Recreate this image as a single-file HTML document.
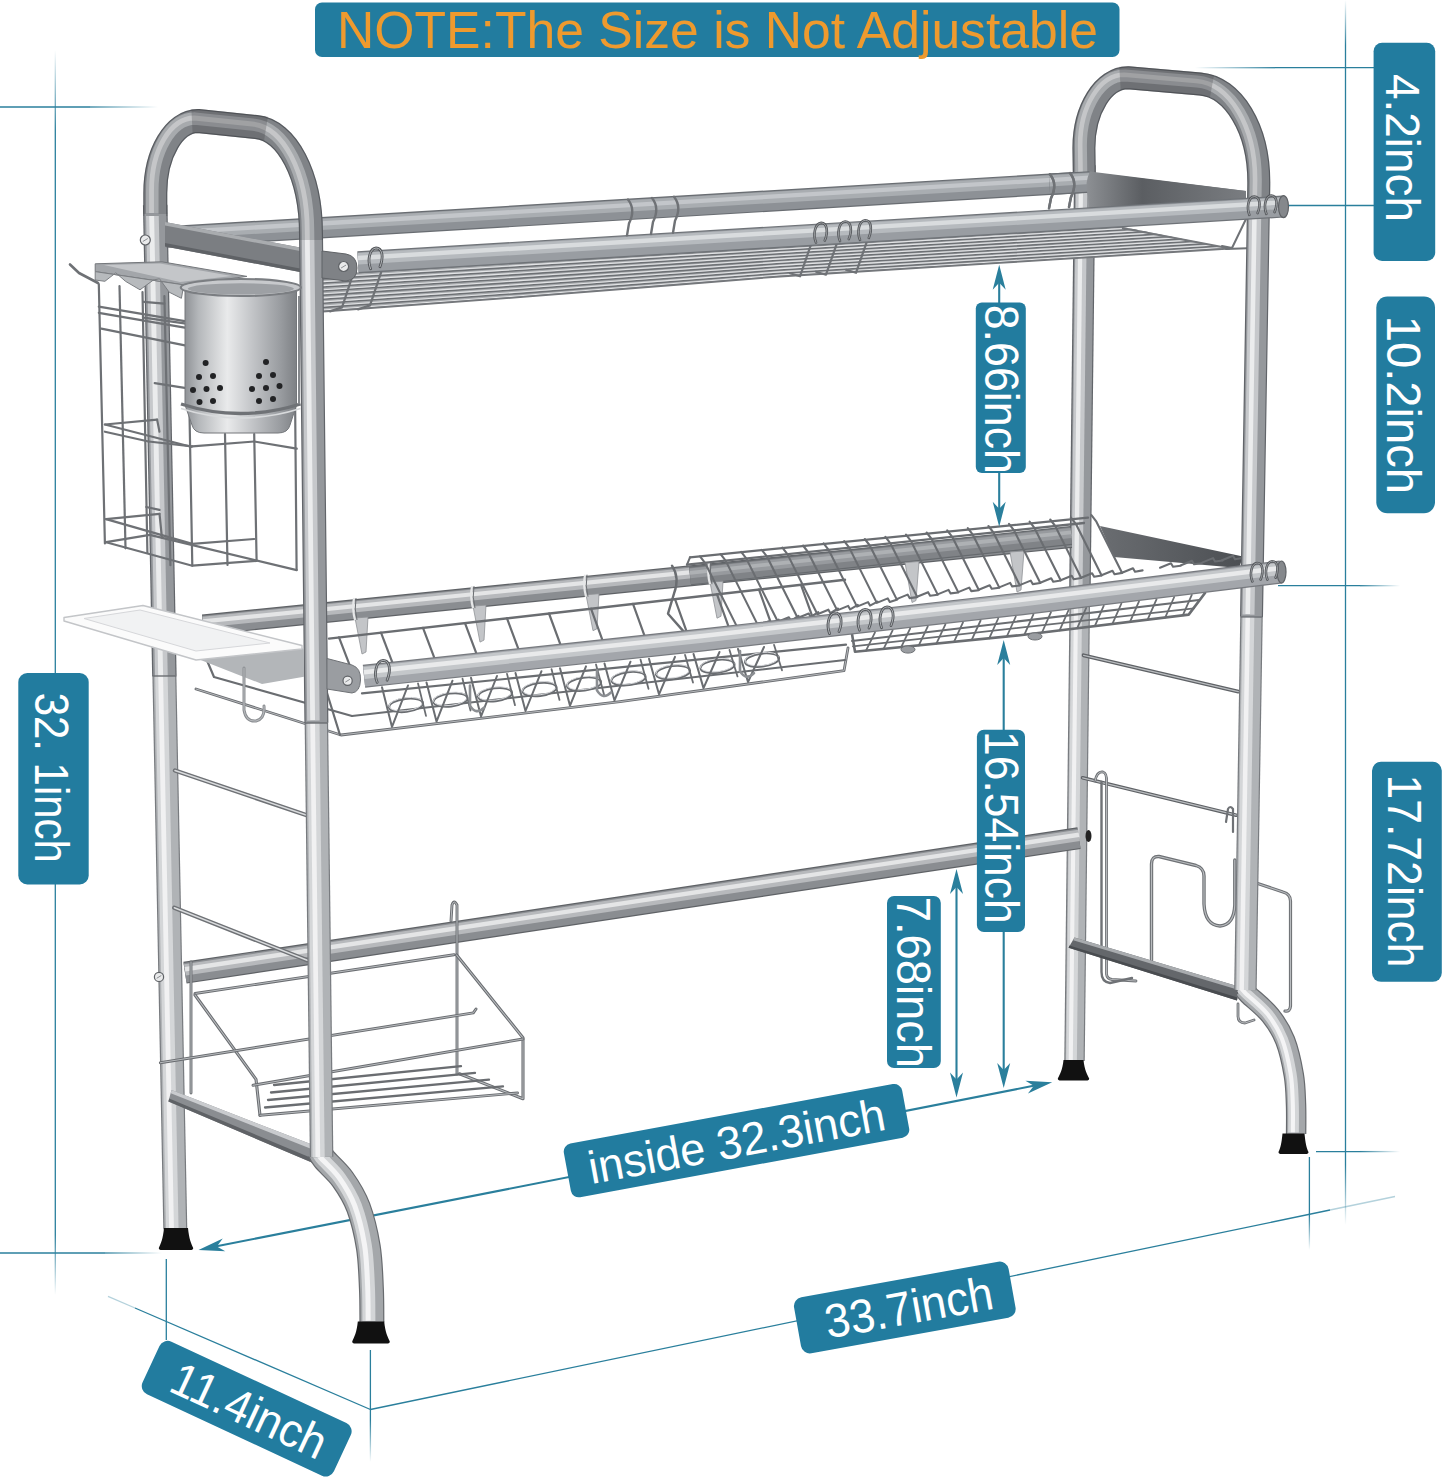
<!DOCTYPE html>
<html lang="en"><head><meta charset="utf-8"><title>Dish rack dimensions</title>
<style>
html,body{margin:0;padding:0;background:#fff}
svg{display:block}
text{font-family:"Liberation Sans",sans-serif}
</style></head><body>
<svg width="1445" height="1483" viewBox="0 0 1445 1483">
<defs>
<linearGradient id="fadeL" x1="0" x2="1" y1="0" y2="0"><stop offset="0" stop-color="#2a7f9c" stop-opacity="0"/><stop offset="1" stop-color="#2a7f9c"/></linearGradient>
<linearGradient id="fadeR" x1="0" x2="1" y1="0" y2="0"><stop offset="0" stop-color="#2a7f9c"/><stop offset="1" stop-color="#2a7f9c" stop-opacity="0"/></linearGradient>
<linearGradient id="fadeT" x1="0" x2="0" y1="0" y2="1"><stop offset="0" stop-color="#2a7f9c" stop-opacity="0"/><stop offset="1" stop-color="#2a7f9c"/></linearGradient>
<linearGradient id="fadeB" x1="0" x2="0" y1="0" y2="1"><stop offset="0" stop-color="#2a7f9c"/><stop offset="1" stop-color="#2a7f9c" stop-opacity="0"/></linearGradient>
<linearGradient id="cup" x1="0" x2="1" y1="0" y2="0"><stop offset="0" stop-color="#8f9296"/><stop offset="0.12" stop-color="#b4b7ba"/><stop offset="0.38" stop-color="#e9eaeb"/><stop offset="0.6" stop-color="#c3c5c8"/><stop offset="0.85" stop-color="#9a9da1"/><stop offset="1" stop-color="#7e8185"/></linearGradient>
<linearGradient id="plate" x1="0" x2="1" y1="0" y2="0"><stop offset="0" stop-color="#8d9094"/><stop offset="0.35" stop-color="#5b5e62"/><stop offset="1" stop-color="#7a7d81"/></linearGradient>
<linearGradient id="plate2" x1="0" x2="1" y1="0" y2="0"><stop offset="0" stop-color="#6a6d71"/><stop offset="1" stop-color="#4c4f53"/></linearGradient>
</defs>
<rect width="1445" height="1483" fill="#fff"/>

<g id="guides">
<rect x="54.65" y="50.0" width="1.3" height="80.0" fill="url(#fadeT)" opacity="1"/>
<line x1="55.3" y1="130" x2="55.3" y2="1235" stroke="#2a7f9c" stroke-width="1.3" opacity="1"/>
<rect x="54.65" y="1235.0" width="1.3" height="60.0" fill="url(#fadeB)" opacity="1"/>
<line x1="0" y1="107" x2="90" y2="107" stroke="#2a7f9c" stroke-width="1.3" opacity="1"/>
<rect x="90.0" y="106.35" width="68.0" height="1.3" fill="url(#fadeR)" opacity="1"/>
<line x1="0" y1="1253" x2="105" y2="1253" stroke="#2a7f9c" stroke-width="1.3" opacity="1"/>
<rect x="105.0" y="1252.35" width="57.0" height="1.3" fill="url(#fadeR)" opacity="1"/>
<rect x="1344.85" y="0.0" width="1.3" height="45.0" fill="url(#fadeT)" opacity="1"/>
<line x1="1345.5" y1="45" x2="1345.5" y2="1165" stroke="#2a7f9c" stroke-width="1.3" opacity="1"/>
<rect x="1344.85" y="1165.0" width="1.3" height="60.0" fill="url(#fadeB)" opacity="1"/>
<rect x="1195.0" y="67.05" width="80.0" height="1.3" fill="url(#fadeL)" opacity="1"/>
<line x1="1275" y1="67.7" x2="1374" y2="67.7" stroke="#2a7f9c" stroke-width="1.3" opacity="1"/>
<line x1="1288" y1="205.5" x2="1374" y2="205.5" stroke="#2a7f9c" stroke-width="1.3" opacity="1"/>
<line x1="1278" y1="585.7" x2="1360" y2="585.7" stroke="#2a7f9c" stroke-width="1.3" opacity="1"/>
<rect x="1360.0" y="585.05" width="40.0" height="1.3" fill="url(#fadeR)" opacity="1"/>
<line x1="1316" y1="1151.6" x2="1360" y2="1151.6" stroke="#2a7f9c" stroke-width="1.3" opacity="1"/>
<rect x="1360.0" y="1150.95" width="40.0" height="1.3" fill="url(#fadeR)" opacity="1"/>
<line x1="1309.4" y1="1157" x2="1309.4" y2="1215" stroke="#2a7f9c" stroke-width="1.3" opacity="1"/>
<rect x="1308.75" y="1215.0" width="1.3" height="35.0" fill="url(#fadeB)" opacity="1"/>
<line x1="166.3" y1="1259" x2="166.3" y2="1340" stroke="#2a7f9c" stroke-width="1.3" opacity="1"/>
<line x1="370.4" y1="1350" x2="370.4" y2="1420" stroke="#2a7f9c" stroke-width="1.3" opacity="1"/>
<rect x="369.75" y="1420.0" width="1.3" height="42.0" fill="url(#fadeB)" opacity="1"/>
<line x1="370.4" y1="1409.5" x2="1330" y2="1210" stroke="#2a7f9c" stroke-width="1.3"/>
<line x1="1330" y1="1210" x2="1395" y2="1196.5" stroke="#2a7f9c" stroke-width="1.3" opacity=".35"/>
<line x1="135" y1="1308" x2="370.4" y2="1409.5" stroke="#2a7f9c" stroke-width="1.3"/>
<line x1="108" y1="1296.4" x2="135" y2="1308" stroke="#2a7f9c" stroke-width="1.3" opacity=".35"/>
<line x1="214" y1="1246.8" x2="1036" y2="1085.3" stroke="#2a7f9c" stroke-width="2.1"/>
<path transform="translate(198.5,1250) rotate(168.9)" d="M0,0L-26,-6.5L-18.7,0L-26,6.5Z" fill="#2a7f9c"/>
<path transform="translate(1052.2,1082.2) rotate(-11.1)" d="M0,0L-26,-6.5L-18.7,0L-26,6.5Z" fill="#2a7f9c"/>
</g>
<g id="rack">
<g fill="none" stroke-linecap="butt" stroke-linejoin="round" >
<path d="M155.2,205L164.4,676" stroke="#62656a" stroke-width="24.5"/>
<path d="M155.2,205L164.4,676" stroke="#95989c" stroke-width="22.1"/>
<path d="M155.2,205L164.4,676" stroke="#c6c8cb" stroke-width="12.7" transform="translate(-3.0,0)"/>
<path d="M155.2,205L164.4,676" stroke="#ebeced" stroke-width="4.9" transform="translate(-3.75,0.00)"/>
</g>
<g fill="none" stroke-linecap="butt" stroke-linejoin="round" >
<path d="M164.4,676L175.3,1229" stroke="#787b7f" stroke-width="24"/>
<path d="M164.4,676L175.3,1229" stroke="#b0b3b6" stroke-width="21.6"/>
<path d="M164.4,676L175.3,1229" stroke="#d4d6d8" stroke-width="12.5" transform="translate(-3.0,0)"/>
<path d="M164.4,676L175.3,1229" stroke="#f1f1f2" stroke-width="4.8" transform="translate(-3.75,0.00)"/>
</g>
<g fill="none" stroke-linecap="butt" stroke-linejoin="round" >
<path d="M1084.9,165L1079.8,600" stroke="#62656a" stroke-width="21.5"/>
<path d="M1084.9,165L1079.8,600" stroke="#95989c" stroke-width="19.1"/>
<path d="M1084.9,165L1079.8,600" stroke="#c6c8cb" stroke-width="11.2" transform="translate(-3.0,0)"/>
<path d="M1084.9,165L1079.8,600" stroke="#ebeced" stroke-width="4.3" transform="translate(-3.75,0.00)"/>
</g>
<g fill="none" stroke-linecap="butt" stroke-linejoin="round" >
<path d="M1079.8,600L1074.5,1061" stroke="#787b7f" stroke-width="20.5"/>
<path d="M1079.8,600L1074.5,1061" stroke="#b0b3b6" stroke-width="18.1"/>
<path d="M1079.8,600L1074.5,1061" stroke="#d4d6d8" stroke-width="10.7" transform="translate(-3.0,0)"/>
<path d="M1079.8,600L1074.5,1061" stroke="#f1f1f2" stroke-width="4.1" transform="translate(-3.75,0.00)"/>
</g>
<path d="M164.0,1228L188.0,1228C189.0,1239.0 191.2,1243.4 193.2,1248.0Q193.2,1250 190.2,1250L161.8,1250Q158.8,1250 158.8,1248.0C160.8,1243.4 163.0,1239.0 164.0,1228Z" fill="#111"/>
<path d="M1063.5,1060L1083.5,1060C1084.5,1070.2 1087.2,1074.3 1089.2,1078.5Q1089.2,1080.5 1086.2,1080.5L1060.8,1080.5Q1057.8,1080.5 1057.8,1078.5C1059.8,1074.3 1062.5,1070.2 1063.5,1060Z" fill="#111"/>
<g fill="none" stroke-linecap="butt" stroke-linejoin="round" >
<path d="M185,972.7L1079,838.2" stroke="#5f6266" stroke-width="22"/>
<path d="M185,972.7L1079,838.2" stroke="#8a8d91" stroke-width="19.6"/>
<path d="M185,972.7L1079,838.2" stroke="#b7b9bc" stroke-width="11.4" transform="translate(0,-2.8)"/>
<path d="M185,972.7L1079,838.2" stroke="#e4e5e6" stroke-width="4.4" transform="translate(0.00,-3.50)"/>
</g>
<ellipse cx="1088.5" cy="836" rx="3" ry="6" fill="#222"/>
<g fill="none" stroke-linecap="butt" stroke-linejoin="round" >
<path d="M166,237.0L1088,182.0" stroke="#696d72" stroke-width="21.5"/>
<path d="M166,237.0L1088,182.0" stroke="#8d9196" stroke-width="19.1"/>
<path d="M166,237.0L1088,182.0" stroke="#a9adb1" stroke-width="11.2" transform="translate(0,-3.4)"/>
<path d="M166,237.0L1088,182.0" stroke="#c3c6ca" stroke-width="4.3" transform="translate(0.00,-4.25)"/>
</g>
<g fill="none" stroke-linecap="butt" stroke-linejoin="round" >
<path d="M203,624.9L1071,537.5" stroke="#5f6266" stroke-width="21"/>
<path d="M203,624.9L1071,537.5" stroke="#8a8d91" stroke-width="18.6"/>
<path d="M203,624.9L1071,537.5" stroke="#b7b9bc" stroke-width="10.9" transform="translate(0,-2.8)"/>
<path d="M203,624.9L1071,537.5" stroke="#e4e5e6" stroke-width="4.2" transform="translate(0.00,-3.50)"/>
</g>
<g fill="none" stroke-linecap="butt" stroke-linejoin="round" >
<path d="M690,575.9L1071,535.5" stroke="#666a6e" stroke-width="19"/>
<path d="M690,575.9L1071,535.5" stroke="#808387" stroke-width="16.6"/>
<path d="M690,575.9L1071,535.5" stroke="#979a9e" stroke-width="9.9" transform="translate(0,-2.5)"/>
<path d="M690,575.9L1071,535.5" stroke="#aeb1b4" stroke-width="3.8" transform="translate(0.00,-3.12)"/>
</g>
<path d="M1083.6,655.3L1238.3,691.6" fill="none" stroke="#5f6266" stroke-width="3.8" stroke-linecap="round" stroke-linejoin="round"/>
<path d="M1083.6,655.3L1238.3,691.6" fill="none" stroke="#b9bcbf" stroke-width="1.29" stroke-linecap="round" stroke-linejoin="round"/>
<path d="M1082.6,777.8L1236.2,815.2" fill="none" stroke="#5f6266" stroke-width="3.6" stroke-linecap="round" stroke-linejoin="round"/>
<path d="M1082.6,777.8L1236.2,815.2" fill="none" stroke="#b9bcbf" stroke-width="1.22" stroke-linecap="round" stroke-linejoin="round"/>
<path d="M1095,781Q1097,771 1103,772Q1107,773 1106.5,782L1106.5,974Q1107,979 1112,979.5L1136,981" fill="none" stroke="#6f7276" stroke-width="2.8" stroke-linecap="round" stroke-linejoin="round"/>
<path d="M1095,781Q1097,771 1103,772Q1107,773 1106.5,782L1106.5,974Q1107,979 1112,979.5L1136,981" fill="none" stroke="#b9bcbf" stroke-width="0.95" stroke-linecap="round" stroke-linejoin="round"/>
<path d="M1101.5,782L1101.5,972Q1101.5,982 1110,983L1132,978" fill="none" stroke="#6f7276" stroke-width="2.4" stroke-linecap="round" stroke-linejoin="round"/>
<path d="M1226,822L1228,809Q1230,805 1233,809L1233,832" fill="none" stroke="#6f7276" stroke-width="2.2" stroke-linecap="round" stroke-linejoin="round"/>
<path d="M1151.5,962L1151.5,864Q1151.5,856 1159,856.5L1196,865.5Q1204,868 1204,876L1204,904Q1205,925 1220,926Q1234,925 1234.8,905L1234.8,860" fill="none" stroke="#6f7276" stroke-width="3.4" stroke-linecap="round" stroke-linejoin="round"/>
<path d="M1151.5,962L1151.5,864Q1151.5,856 1159,856.5L1196,865.5Q1204,868 1204,876L1204,904Q1205,925 1220,926Q1234,925 1234.8,905L1234.8,860" fill="none" stroke="#b9bcbf" stroke-width="1.16" stroke-linecap="round" stroke-linejoin="round"/>
<path d="M1257.7,883.5L1283,892Q1290.5,894 1290.5,901L1290.5,1006Q1290,1012 1285,1011" fill="none" stroke="#6f7276" stroke-width="3.2" stroke-linecap="round" stroke-linejoin="round"/>
<path d="M1257.7,883.5L1283,892Q1290.5,894 1290.5,901L1290.5,1006Q1290,1012 1285,1011" fill="none" stroke="#b9bcbf" stroke-width="1.09" stroke-linecap="round" stroke-linejoin="round"/>
<path d="M1238,1004L1238,1016Q1238,1023 1245,1023L1254,1020" fill="none" stroke="#6f7276" stroke-width="2.8" stroke-linecap="round" stroke-linejoin="round"/>
<path d="M1238,1004L1238,1016Q1238,1023 1245,1023L1254,1020" fill="none" stroke="#b9bcbf" stroke-width="0.95" stroke-linecap="round" stroke-linejoin="round"/>
<path d="M1087.5,172L1246,191L1246,206L1090,216Z" fill="url(#plate)"/>
<path d="M1100,526L1243,556.4L1239,568L1114,557Z" fill="url(#plate2)"/>
<path d="M175,770.5L309,816" fill="none" stroke="#6f7276" stroke-width="4.4" stroke-linecap="round" stroke-linejoin="round"/>
<path d="M175,770.5L309,816" fill="none" stroke="#d9dbdd" stroke-width="1.50" stroke-linecap="round" stroke-linejoin="round"/>
<path d="M174.3,907.7L307.2,960.3" fill="none" stroke="#6f7276" stroke-width="4.4" stroke-linecap="round" stroke-linejoin="round"/>
<path d="M174.3,907.7L307.2,960.3" fill="none" stroke="#d9dbdd" stroke-width="1.50" stroke-linecap="round" stroke-linejoin="round"/>
<path d="M165,222L300,247.5L300,272L165,246.5Z" fill="#7b7e82"/>
<path d="M165,222L300,247.5L300,251L165,225.5Z" fill="#a9acaf"/>
<path d="M165,243L300,268.5L300,272L165,246.5Z" fill="#5f6266"/>
<path d="M171.5,1090.1L310.6,1144.1L314.8,1163.8L168.4,1101.5Z" fill="#8a8d91"/>
<path d="M171.5,1090.1L310.6,1144.1L311.5,1149L170.8,1093.2Z" fill="#c9cbce"/>
<path d="M169.2,1098.6L313.8,1159L314.8,1163.8L168.4,1101.5Z" fill="#5f6266"/>
<path d="M1074.4,937.4L1239.4,986.7L1237,1000.4L1068.6,947.7Z" fill="#64676b"/>
<path d="M1074.4,937.4L1239.4,986.7L1238.8,990L1073.2,940.2Z" fill="#a9acaf"/>
<path d="M1069.4,945.5L1237.5,997.6L1237,1000.4L1068.6,947.7Z" fill="#494c50"/>
<clipPath id="meshclip"><path d="M323.0,274.8L520.0,263.0L680.0,253.4L780.0,247.4L1000.0,234.1L1122.0,226.8L1230.0,248.5L1000.0,262.9L780.0,276.5L680.0,284.5L520.0,297.2L323.0,311.5Z"/></clipPath>
<g clip-path="url(#meshclip)">
<rect x="320" y="220" width="920" height="100" fill="#a9acaf"/>
<path d="M323.0,274.8L520.0,263.0L680.0,253.4L780.0,247.4L1000.0,234.1L1230.0,220.3" fill="none" stroke="#6d7074" stroke-width="1.5"/>
<path d="M323.0,273.4L520.0,261.6L680.0,252.0L780.0,246.0L1000.0,232.7L1230.0,218.9" fill="none" stroke="#e3e4e6" stroke-width="1.1"/>
<path d="M323.0,278.9L520.0,266.8L680.0,256.8L780.0,250.6L1000.0,237.3L1230.0,223.5" fill="none" stroke="#6d7074" stroke-width="1.5"/>
<path d="M323.0,277.5L520.0,265.4L680.0,255.4L780.0,249.2L1000.0,235.9L1230.0,222.1" fill="none" stroke="#e3e4e6" stroke-width="1.1"/>
<path d="M323.0,283.0L520.0,270.6L680.0,260.3L780.0,253.8L1000.0,240.5L1230.0,226.6" fill="none" stroke="#6d7074" stroke-width="1.5"/>
<path d="M323.0,281.6L520.0,269.2L680.0,258.9L780.0,252.4L1000.0,239.1L1230.0,225.2" fill="none" stroke="#e3e4e6" stroke-width="1.1"/>
<path d="M323.0,287.0L520.0,274.4L680.0,263.7L780.0,257.1L1000.0,243.7L1230.0,229.7" fill="none" stroke="#6d7074" stroke-width="1.5"/>
<path d="M323.0,285.6L520.0,273.0L680.0,262.3L780.0,255.7L1000.0,242.3L1230.0,228.3" fill="none" stroke="#e3e4e6" stroke-width="1.1"/>
<path d="M323.0,291.1L520.0,278.2L680.0,267.2L780.0,260.3L1000.0,246.9L1230.0,232.8" fill="none" stroke="#6d7074" stroke-width="1.5"/>
<path d="M323.0,289.7L520.0,276.8L680.0,265.8L780.0,258.9L1000.0,245.5L1230.0,231.4" fill="none" stroke="#e3e4e6" stroke-width="1.1"/>
<path d="M323.0,295.2L520.0,282.0L680.0,270.7L780.0,263.5L1000.0,250.1L1230.0,236.0" fill="none" stroke="#6d7074" stroke-width="1.5"/>
<path d="M323.0,293.8L520.0,280.6L680.0,269.3L780.0,262.1L1000.0,248.7L1230.0,234.6" fill="none" stroke="#e3e4e6" stroke-width="1.1"/>
<path d="M323.0,299.3L520.0,285.8L680.0,274.1L780.0,266.8L1000.0,253.3L1230.0,239.1" fill="none" stroke="#6d7074" stroke-width="1.5"/>
<path d="M323.0,297.9L520.0,284.4L680.0,272.7L780.0,265.4L1000.0,251.9L1230.0,237.7" fill="none" stroke="#e3e4e6" stroke-width="1.1"/>
<path d="M323.0,303.3L520.0,289.6L680.0,277.6L780.0,270.0L1000.0,256.5L1230.0,242.2" fill="none" stroke="#6d7074" stroke-width="1.5"/>
<path d="M323.0,301.9L520.0,288.2L680.0,276.2L780.0,268.6L1000.0,255.1L1230.0,240.8" fill="none" stroke="#e3e4e6" stroke-width="1.1"/>
<path d="M323.0,307.4L520.0,293.4L680.0,281.0L780.0,273.3L1000.0,259.7L1230.0,245.4" fill="none" stroke="#6d7074" stroke-width="1.5"/>
<path d="M323.0,306.0L520.0,292.0L680.0,279.6L780.0,271.9L1000.0,258.3L1230.0,244.0" fill="none" stroke="#e3e4e6" stroke-width="1.1"/>
<path d="M323.0,311.5L520.0,297.2L680.0,284.5L780.0,276.5L1000.0,262.9L1230.0,248.5" fill="none" stroke="#6d7074" stroke-width="1.5"/>
<path d="M323.0,310.1L520.0,295.8L680.0,283.1L780.0,275.1L1000.0,261.5L1230.0,247.1" fill="none" stroke="#e3e4e6" stroke-width="1.1"/>
</g>
<path d="M323,311.5L520,297.2L680,284.5L780,276.5L1000,262.9L1230,248.5L1122,228" fill="none" stroke="#74777b" stroke-width="1.8"/>
<path d="M354,271.4L342,307.4L330,311.4" fill="none" stroke="#6f7276" stroke-width="2.2" stroke-linecap="round" stroke-linejoin="round"/>
<path d="M382,269.7L370,305.4L358,309.4" fill="none" stroke="#6f7276" stroke-width="2.2" stroke-linecap="round" stroke-linejoin="round"/>
<path d="M812,241.7L800,276.3L790,273.3" fill="none" stroke="#6f7276" stroke-width="2.2" stroke-linecap="round" stroke-linejoin="round"/>
<path d="M838,240.1L826,274.7L816,271.7" fill="none" stroke="#6f7276" stroke-width="2.2" stroke-linecap="round" stroke-linejoin="round"/>
<path d="M868,238.3L856,272.8L846,269.8" fill="none" stroke="#6f7276" stroke-width="2.2" stroke-linecap="round" stroke-linejoin="round"/>
<path d="M1246,219L1232,248L1222,246" fill="none" stroke="#6f7276" stroke-width="2.0" stroke-linecap="round" stroke-linejoin="round"/>
<path d="M1268,218L1254,248L1226,249" fill="none" stroke="#6f7276" stroke-width="2.0" stroke-linecap="round" stroke-linejoin="round"/>
<path d="M355,618.0L368,617.0L366,652.0L362,654.0Z" fill="#c3c5c8" stroke="#8f9296" stroke-width="0.8"/>
<path d="M354,598.0Q352,609.0 355,620.0" fill="none" stroke="#e6e7e8" stroke-width="2.2"/>
<path d="M356,598.0Q354,609.0 357,620.0" fill="none" stroke="#6b6e72" stroke-width="1"/>
<path d="M473,606.1L486,605.1L484,640.1L480,642.1Z" fill="#c3c5c8" stroke="#8f9296" stroke-width="0.8"/>
<path d="M472,586.1Q470,597.1 473,608.1" fill="none" stroke="#e6e7e8" stroke-width="2.2"/>
<path d="M474,586.1Q472,597.1 475,608.1" fill="none" stroke="#6b6e72" stroke-width="1"/>
<path d="M586,594.7L599,593.7L597,628.7L593,630.7Z" fill="#c3c5c8" stroke="#8f9296" stroke-width="0.8"/>
<path d="M585,574.7Q583,585.7 586,596.7" fill="none" stroke="#e6e7e8" stroke-width="2.2"/>
<path d="M587,574.7Q585,585.7 588,596.7" fill="none" stroke="#6b6e72" stroke-width="1"/>
<path d="M710,582.2L723,581.2L721,616.2L717,618.2Z" fill="#c3c5c8" stroke="#8f9296" stroke-width="0.8"/>
<path d="M709,562.2Q707,573.2 710,584.2" fill="none" stroke="#e6e7e8" stroke-width="2.2"/>
<path d="M711,562.2Q709,573.2 712,584.2" fill="none" stroke="#6b6e72" stroke-width="1"/>
<path d="M329,638.6L845,579.8" fill="none" stroke="#6a6d71" stroke-width="2.4" stroke-linecap="round" stroke-linejoin="round"/>
<path d="M339,637.4L351,668.6" fill="none" stroke="#6a6d71" stroke-width="2.2" stroke-linecap="round" stroke-linejoin="round"/>
<path d="M381,632.6L393,664.1" fill="none" stroke="#6a6d71" stroke-width="2.2" stroke-linecap="round" stroke-linejoin="round"/>
<path d="M423,627.9L435,659.6" fill="none" stroke="#6a6d71" stroke-width="2.2" stroke-linecap="round" stroke-linejoin="round"/>
<path d="M465,623.1L477,655.1" fill="none" stroke="#6a6d71" stroke-width="2.2" stroke-linecap="round" stroke-linejoin="round"/>
<path d="M507,618.3L519,650.6" fill="none" stroke="#6a6d71" stroke-width="2.2" stroke-linecap="round" stroke-linejoin="round"/>
<path d="M549,613.5L561,646.1" fill="none" stroke="#6a6d71" stroke-width="2.2" stroke-linecap="round" stroke-linejoin="round"/>
<path d="M591,608.7L603,641.6" fill="none" stroke="#6a6d71" stroke-width="2.2" stroke-linecap="round" stroke-linejoin="round"/>
<path d="M633,603.9L645,637.1" fill="none" stroke="#6a6d71" stroke-width="2.2" stroke-linecap="round" stroke-linejoin="round"/>
<path d="M675,599.1L687,632.6" fill="none" stroke="#6a6d71" stroke-width="2.2" stroke-linecap="round" stroke-linejoin="round"/>
<path d="M717,594.3L729,627.9" fill="none" stroke="#6a6d71" stroke-width="2.2" stroke-linecap="round" stroke-linejoin="round"/>
<path d="M759,589.6L771,623.2" fill="none" stroke="#6a6d71" stroke-width="2.2" stroke-linecap="round" stroke-linejoin="round"/>
<path d="M801,584.8L813,618.4" fill="none" stroke="#6a6d71" stroke-width="2.2" stroke-linecap="round" stroke-linejoin="round"/>
<path d="M196,689L341,735L620,701.7L844,670.7L848,648" fill="none" stroke="#6a6d71" stroke-width="2.8" stroke-linecap="round" stroke-linejoin="round"/>
<path d="M196,689L341,735L620,701.7L844,670.7L848,648" fill="none" stroke="#b9bcbf" stroke-width="0.95" stroke-linecap="round" stroke-linejoin="round"/>
<path d="M362,693.4L846,644.7" fill="none" stroke="#6a6d71" stroke-width="2.2" stroke-linecap="round" stroke-linejoin="round"/>
<path d="M203,651L214,677L352,716" fill="none" stroke="#6a6d71" stroke-width="2.2" stroke-linecap="round" stroke-linejoin="round"/>
<path d="M352,716L845,660" fill="none" stroke="#6a6d71" stroke-width="2.0" stroke-linecap="round" stroke-linejoin="round"/>
<path d="M327,693L340,735" fill="none" stroke="#6a6d71" stroke-width="2.2" stroke-linecap="round" stroke-linejoin="round"/>
<ellipse cx="406.0" cy="705.2" rx="17" ry="6.5" fill="none" stroke="#6a6d71" stroke-width="2.3" transform="rotate(-7 406.0 705.2)"/>
<ellipse cx="406.0" cy="704.2" rx="17" ry="6.5" fill="none" stroke="#dcdde0" stroke-width="0.9" transform="rotate(-7 406.0 705.2)"/>
<path d="M382.0,687.3L392.0,726.9L408.0,685.5" fill="none" stroke="#6a6d71" stroke-width="2.0" stroke-linecap="round" stroke-linejoin="round"/>
<path d="M418.0,683.4L426.0,715.9" fill="none" stroke="#6a6d71" stroke-width="1.8" stroke-linecap="round" stroke-linejoin="round"/>
<ellipse cx="450.5" cy="699.9" rx="17" ry="6.5" fill="none" stroke="#6a6d71" stroke-width="2.3" transform="rotate(-7 450.5 699.9)"/>
<ellipse cx="450.5" cy="698.9" rx="17" ry="6.5" fill="none" stroke="#dcdde0" stroke-width="0.9" transform="rotate(-7 450.5 699.9)"/>
<path d="M426.5,682.5L436.5,721.6L452.5,680.7" fill="none" stroke="#6a6d71" stroke-width="2.0" stroke-linecap="round" stroke-linejoin="round"/>
<path d="M462.5,678.7L470.5,710.5" fill="none" stroke="#6a6d71" stroke-width="1.8" stroke-linecap="round" stroke-linejoin="round"/>
<ellipse cx="495.0" cy="694.6" rx="17" ry="6.5" fill="none" stroke="#6a6d71" stroke-width="2.3" transform="rotate(-7 495.0 694.6)"/>
<ellipse cx="495.0" cy="693.6" rx="17" ry="6.5" fill="none" stroke="#dcdde0" stroke-width="0.9" transform="rotate(-7 495.0 694.6)"/>
<path d="M471.0,677.8L481.0,716.3L497.0,676.0" fill="none" stroke="#6a6d71" stroke-width="2.0" stroke-linecap="round" stroke-linejoin="round"/>
<path d="M507.0,673.9L515.0,705.2" fill="none" stroke="#6a6d71" stroke-width="1.8" stroke-linecap="round" stroke-linejoin="round"/>
<ellipse cx="539.5" cy="689.3" rx="17" ry="6.5" fill="none" stroke="#6a6d71" stroke-width="2.3" transform="rotate(-7 539.5 689.3)"/>
<ellipse cx="539.5" cy="688.3" rx="17" ry="6.5" fill="none" stroke="#dcdde0" stroke-width="0.9" transform="rotate(-7 539.5 689.3)"/>
<path d="M515.5,673.0L525.5,711.0L541.5,671.2" fill="none" stroke="#6a6d71" stroke-width="2.0" stroke-linecap="round" stroke-linejoin="round"/>
<path d="M551.5,669.1L559.5,699.9" fill="none" stroke="#6a6d71" stroke-width="1.8" stroke-linecap="round" stroke-linejoin="round"/>
<ellipse cx="584.0" cy="684.0" rx="17" ry="6.5" fill="none" stroke="#6a6d71" stroke-width="2.3" transform="rotate(-7 584.0 684.0)"/>
<ellipse cx="584.0" cy="683.0" rx="17" ry="6.5" fill="none" stroke="#dcdde0" stroke-width="0.9" transform="rotate(-7 584.0 684.0)"/>
<path d="M560.0,668.2L570.0,705.7L586.0,666.4" fill="none" stroke="#6a6d71" stroke-width="2.0" stroke-linecap="round" stroke-linejoin="round"/>
<path d="M596.0,664.4L604.0,694.6" fill="none" stroke="#6a6d71" stroke-width="1.8" stroke-linecap="round" stroke-linejoin="round"/>
<ellipse cx="628.5" cy="678.5" rx="17" ry="6.5" fill="none" stroke="#6a6d71" stroke-width="2.3" transform="rotate(-7 628.5 678.5)"/>
<ellipse cx="628.5" cy="677.5" rx="17" ry="6.5" fill="none" stroke="#dcdde0" stroke-width="0.9" transform="rotate(-7 628.5 678.5)"/>
<path d="M604.5,663.4L614.5,700.4L630.5,661.7" fill="none" stroke="#6a6d71" stroke-width="2.0" stroke-linecap="round" stroke-linejoin="round"/>
<path d="M640.5,659.6L648.5,688.8" fill="none" stroke="#6a6d71" stroke-width="1.8" stroke-linecap="round" stroke-linejoin="round"/>
<ellipse cx="673.0" cy="672.4" rx="17" ry="6.5" fill="none" stroke="#6a6d71" stroke-width="2.3" transform="rotate(-7 673.0 672.4)"/>
<ellipse cx="673.0" cy="671.4" rx="17" ry="6.5" fill="none" stroke="#dcdde0" stroke-width="0.9" transform="rotate(-7 673.0 672.4)"/>
<path d="M649.0,658.7L659.0,694.3L675.0,656.9" fill="none" stroke="#6a6d71" stroke-width="2.0" stroke-linecap="round" stroke-linejoin="round"/>
<path d="M685.0,654.8L693.0,682.6" fill="none" stroke="#6a6d71" stroke-width="1.8" stroke-linecap="round" stroke-linejoin="round"/>
<ellipse cx="717.5" cy="666.2" rx="17" ry="6.5" fill="none" stroke="#6a6d71" stroke-width="2.3" transform="rotate(-7 717.5 666.2)"/>
<ellipse cx="717.5" cy="665.2" rx="17" ry="6.5" fill="none" stroke="#dcdde0" stroke-width="0.9" transform="rotate(-7 717.5 666.2)"/>
<path d="M693.5,653.9L703.5,688.1L719.5,652.0" fill="none" stroke="#6a6d71" stroke-width="2.0" stroke-linecap="round" stroke-linejoin="round"/>
<path d="M729.5,649.9L737.5,676.4" fill="none" stroke="#6a6d71" stroke-width="1.8" stroke-linecap="round" stroke-linejoin="round"/>
<ellipse cx="762.0" cy="660.0" rx="17" ry="6.5" fill="none" stroke="#6a6d71" stroke-width="2.3" transform="rotate(-7 762.0 660.0)"/>
<ellipse cx="762.0" cy="659.0" rx="17" ry="6.5" fill="none" stroke="#dcdde0" stroke-width="0.9" transform="rotate(-7 762.0 660.0)"/>
<path d="M738.0,648.9L748.0,682.0L764.0,647.0" fill="none" stroke="#6a6d71" stroke-width="2.0" stroke-linecap="round" stroke-linejoin="round"/>
<path d="M774.0,644.8L782.0,670.3" fill="none" stroke="#6a6d71" stroke-width="1.8" stroke-linecap="round" stroke-linejoin="round"/>
<path d="M470,685.6L470,705.6Q476,715.6 484,707.6" fill="none" stroke="#8b8e92" stroke-width="2.6" stroke-linecap="round" stroke-linejoin="round"/>
<path d="M597,670.4L597,690.4Q603,700.4 611,692.4" fill="none" stroke="#8b8e92" stroke-width="2.6" stroke-linecap="round" stroke-linejoin="round"/>
<path d="M740,651.1L740,671.1Q746,681.1 754,673.1" fill="none" stroke="#8b8e92" stroke-width="2.6" stroke-linecap="round" stroke-linejoin="round"/>
<path d="M905,562.5L919,561.5L916,600.5L912,602.5Z" fill="#c3c5c8" stroke="#8f9296" stroke-width="0.8"/>
<path d="M1010,552.0L1024,551.0L1021,590.0L1017,592.0Z" fill="#c3c5c8" stroke="#8f9296" stroke-width="0.8"/>
<path d="M687,564.7L1084,523.0" fill="none" stroke="#6a6d71" stroke-width="2.3" stroke-linecap="round" stroke-linejoin="round"/>
<path d="M690,557.3L1088,517.6" fill="none" stroke="#6a6d71" stroke-width="2.3" stroke-linecap="round" stroke-linejoin="round"/>
<path d="M687,564.7L690,557.3" fill="none" stroke="#6a6d71" stroke-width="2.0" stroke-linecap="round" stroke-linejoin="round"/>
<path d="M672,565.7Q680,577.7 674,593.7L668,613.7L684,631.9" fill="none" stroke="#6a6d71" stroke-width="2.4" stroke-linecap="round" stroke-linejoin="round"/>
<path d="M700.0,556.3L705.0,562.8L738.3,629.4L749.3,624.9L751.3,628.4L758.9,623.4" fill="none" stroke="#6a6d71" stroke-width="2.1" stroke-linecap="round" stroke-linejoin="round"/>
<path d="M720.6,554.1L725.6,560.6L758.1,625.6L769.1,621.1L771.1,624.6L778.7,619.6" fill="none" stroke="#6a6d71" stroke-width="2.1" stroke-linecap="round" stroke-linejoin="round"/>
<path d="M741.2,551.9L746.2,558.4L777.9,621.8L788.9,617.3L790.9,620.8L798.5,615.9" fill="none" stroke="#6a6d71" stroke-width="2.1" stroke-linecap="round" stroke-linejoin="round"/>
<path d="M761.8,549.8L766.8,556.3L797.7,618.0L808.7,613.5L810.7,617.0L818.3,612.2" fill="none" stroke="#6a6d71" stroke-width="2.1" stroke-linecap="round" stroke-linejoin="round"/>
<path d="M782.4,547.6L787.4,554.1L817.4,614.2L828.4,609.7L830.4,613.2L838.0,608.5" fill="none" stroke="#6a6d71" stroke-width="2.1" stroke-linecap="round" stroke-linejoin="round"/>
<path d="M803.0,545.5L808.0,552.0L837.2,610.4L848.2,605.9L850.2,609.4L857.8,604.8" fill="none" stroke="#6a6d71" stroke-width="2.1" stroke-linecap="round" stroke-linejoin="round"/>
<path d="M823.6,543.3L828.6,549.8L857.0,606.6L868.0,602.1L870.0,605.6L877.6,601.6" fill="none" stroke="#6a6d71" stroke-width="2.1" stroke-linecap="round" stroke-linejoin="round"/>
<path d="M844.2,541.1L849.2,547.6L876.8,602.9L887.8,598.4L889.8,601.9L897.4,599.4" fill="none" stroke="#6a6d71" stroke-width="2.1" stroke-linecap="round" stroke-linejoin="round"/>
<path d="M864.8,539.0L869.8,545.5L896.6,599.1L907.6,594.6L909.6,598.1L917.2,597.1" fill="none" stroke="#6a6d71" stroke-width="2.1" stroke-linecap="round" stroke-linejoin="round"/>
<path d="M885.4,536.8L890.4,543.3L917.1,596.7L928.1,592.2L930.1,595.7L937.7,594.8" fill="none" stroke="#6a6d71" stroke-width="2.1" stroke-linecap="round" stroke-linejoin="round"/>
<path d="M906.0,534.6L911.0,541.1L937.6,594.4L948.6,589.9L950.6,593.4L958.2,592.5" fill="none" stroke="#6a6d71" stroke-width="2.1" stroke-linecap="round" stroke-linejoin="round"/>
<path d="M926.6,532.5L931.6,539.0L958.2,592.1L969.2,587.6L971.2,591.1L978.8,590.2" fill="none" stroke="#6a6d71" stroke-width="2.1" stroke-linecap="round" stroke-linejoin="round"/>
<path d="M947.2,530.3L952.2,536.8L978.7,589.8L989.7,585.3L991.7,588.8L999.3,587.8" fill="none" stroke="#6a6d71" stroke-width="2.1" stroke-linecap="round" stroke-linejoin="round"/>
<path d="M967.8,528.2L972.8,534.7L999.2,587.4L1010.2,582.9L1012.2,586.4L1019.8,585.5" fill="none" stroke="#6a6d71" stroke-width="2.1" stroke-linecap="round" stroke-linejoin="round"/>
<path d="M988.4,526.0L993.4,532.5L1019.7,585.1L1030.7,580.6L1032.7,584.1L1040.3,583.0" fill="none" stroke="#6a6d71" stroke-width="2.1" stroke-linecap="round" stroke-linejoin="round"/>
<path d="M1009.0,523.8L1014.0,530.3L1040.2,582.8L1051.2,578.3L1053.2,581.8L1060.8,580.5" fill="none" stroke="#6a6d71" stroke-width="2.1" stroke-linecap="round" stroke-linejoin="round"/>
<path d="M1029.6,521.7L1034.6,528.2L1060.7,580.3L1071.7,575.8L1073.7,579.3L1081.3,578.0" fill="none" stroke="#6a6d71" stroke-width="2.1" stroke-linecap="round" stroke-linejoin="round"/>
<path d="M1050.2,519.5L1055.2,526.0L1081.1,577.8L1092.1,573.3L1094.1,576.8L1101.7,575.5" fill="none" stroke="#6a6d71" stroke-width="2.1" stroke-linecap="round" stroke-linejoin="round"/>
<path d="M1070.8,517.3L1075.8,523.8L1101.5,575.3L1112.5,570.8L1114.5,574.3L1122.1,572.9" fill="none" stroke="#6a6d71" stroke-width="2.1" stroke-linecap="round" stroke-linejoin="round"/>
<path d="M1091.4,515.2L1096.4,521.7L1122.0,572.8L1133.0,568.3L1135.0,571.8L1142.6,570.4" fill="none" stroke="#6a6d71" stroke-width="2.1" stroke-linecap="round" stroke-linejoin="round"/>
<path d="M1160.0,567.8L1171.0,563.3L1173.0,566.8L1180.6,565.8" fill="none" stroke="#6a6d71" stroke-width="2.0" stroke-linecap="round" stroke-linejoin="round"/>
<path d="M1181.0,565.2L1192.0,560.7L1194.0,564.2L1201.6,563.2" fill="none" stroke="#6a6d71" stroke-width="2.0" stroke-linecap="round" stroke-linejoin="round"/>
<path d="M1202.0,562.6L1213.0,558.1L1215.0,561.6L1222.6,560.6" fill="none" stroke="#6a6d71" stroke-width="2.0" stroke-linecap="round" stroke-linejoin="round"/>
<path d="M1222.0,560.2L1233.0,555.7L1235.0,559.2L1242.6,558.1" fill="none" stroke="#6a6d71" stroke-width="2.0" stroke-linecap="round" stroke-linejoin="round"/>
<path d="M852,634L855,651.8L1020,635.2L1188.7,614.6L1205,593" fill="none" stroke="#6a6d71" stroke-width="2.6" stroke-linecap="round" stroke-linejoin="round"/>
<path d="M852,641.0L1199,600.0" fill="none" stroke="#6a6d71" stroke-width="2.0" stroke-linecap="round" stroke-linejoin="round"/>
<path d="M853,646.3L1194,608.3" fill="none" stroke="#6a6d71" stroke-width="1.8" stroke-linecap="round" stroke-linejoin="round"/>
<path d="M875.0,632.4L866.0,650.7" fill="none" stroke="#6a6d71" stroke-width="1.8" stroke-linecap="round" stroke-linejoin="round"/>
<path d="M892.6,630.4L883.6,648.9" fill="none" stroke="#6a6d71" stroke-width="1.8" stroke-linecap="round" stroke-linejoin="round"/>
<path d="M910.2,628.4L901.2,647.2" fill="none" stroke="#6a6d71" stroke-width="1.8" stroke-linecap="round" stroke-linejoin="round"/>
<path d="M927.8,626.4L918.8,645.4" fill="none" stroke="#6a6d71" stroke-width="1.8" stroke-linecap="round" stroke-linejoin="round"/>
<path d="M945.4,624.4L936.4,643.6" fill="none" stroke="#6a6d71" stroke-width="1.8" stroke-linecap="round" stroke-linejoin="round"/>
<path d="M963.0,622.4L954.0,641.8" fill="none" stroke="#6a6d71" stroke-width="1.8" stroke-linecap="round" stroke-linejoin="round"/>
<path d="M980.6,620.5L971.6,640.1" fill="none" stroke="#6a6d71" stroke-width="1.8" stroke-linecap="round" stroke-linejoin="round"/>
<path d="M998.2,618.5L989.2,638.3" fill="none" stroke="#6a6d71" stroke-width="1.8" stroke-linecap="round" stroke-linejoin="round"/>
<path d="M1015.8,616.5L1006.8,636.5" fill="none" stroke="#6a6d71" stroke-width="1.8" stroke-linecap="round" stroke-linejoin="round"/>
<path d="M1033.4,614.4L1024.4,634.7" fill="none" stroke="#6a6d71" stroke-width="1.8" stroke-linecap="round" stroke-linejoin="round"/>
<path d="M1051.0,612.2L1042.0,632.5" fill="none" stroke="#6a6d71" stroke-width="1.8" stroke-linecap="round" stroke-linejoin="round"/>
<path d="M1068.6,610.0L1059.6,630.4" fill="none" stroke="#6a6d71" stroke-width="1.8" stroke-linecap="round" stroke-linejoin="round"/>
<path d="M1086.2,607.9L1077.2,628.2" fill="none" stroke="#6a6d71" stroke-width="1.8" stroke-linecap="round" stroke-linejoin="round"/>
<path d="M1103.8,605.7L1094.8,626.1" fill="none" stroke="#6a6d71" stroke-width="1.8" stroke-linecap="round" stroke-linejoin="round"/>
<path d="M1121.4,603.5L1112.4,623.9" fill="none" stroke="#6a6d71" stroke-width="1.8" stroke-linecap="round" stroke-linejoin="round"/>
<path d="M1139.0,601.4L1130.0,621.8" fill="none" stroke="#6a6d71" stroke-width="1.8" stroke-linecap="round" stroke-linejoin="round"/>
<path d="M1156.6,599.2L1147.6,619.6" fill="none" stroke="#6a6d71" stroke-width="1.8" stroke-linecap="round" stroke-linejoin="round"/>
<path d="M1174.2,597.0L1165.2,617.5" fill="none" stroke="#6a6d71" stroke-width="1.8" stroke-linecap="round" stroke-linejoin="round"/>
<path d="M1191.8,594.9L1182.8,615.3" fill="none" stroke="#6a6d71" stroke-width="1.8" stroke-linecap="round" stroke-linejoin="round"/>
<ellipse cx="908" cy="649.5" rx="7" ry="3.6" fill="#9a9da1" stroke="#6f7276" stroke-width="1"/>
<ellipse cx="1035" cy="636.4" rx="7" ry="3.6" fill="#9a9da1" stroke="#6f7276" stroke-width="1"/>
<path d="M191,962L191,1093" fill="none" stroke="#6a6d71" stroke-width="2.9" stroke-linecap="round" stroke-linejoin="round"/>
<path d="M191,962L191,1093" fill="none" stroke="#b9bcbf" stroke-width="0.99" stroke-linecap="round" stroke-linejoin="round"/>
<path d="M451,921L452,905Q454,899 457,905L457,1074" fill="none" stroke="#6a6d71" stroke-width="2.9" stroke-linecap="round" stroke-linejoin="round"/>
<path d="M451,921L452,905Q454,899 457,905L457,1074" fill="none" stroke="#b9bcbf" stroke-width="0.99" stroke-linecap="round" stroke-linejoin="round"/>
<path d="M195,993.5L454,954.7" fill="none" stroke="#6a6d71" stroke-width="2.9" stroke-linecap="round" stroke-linejoin="round"/>
<path d="M195,993.5L454,954.7" fill="none" stroke="#b9bcbf" stroke-width="0.99" stroke-linecap="round" stroke-linejoin="round"/>
<path d="M195,995L256,1079.3L260,1115.3" fill="none" stroke="#6a6d71" stroke-width="3.1" stroke-linecap="round" stroke-linejoin="round"/>
<path d="M195,995L256,1079.3L260,1115.3" fill="none" stroke="#b9bcbf" stroke-width="1.05" stroke-linecap="round" stroke-linejoin="round"/>
<path d="M456.6,955L523,1037.8L523,1098.7L459.4,1073.8" fill="none" stroke="#6a6d71" stroke-width="3.1" stroke-linecap="round" stroke-linejoin="round"/>
<path d="M456.6,955L523,1037.8L523,1098.7L459.4,1073.8" fill="none" stroke="#b9bcbf" stroke-width="1.05" stroke-linecap="round" stroke-linejoin="round"/>
<path d="M253,1085.3L256,1084.8L523,1039" fill="none" stroke="#6a6d71" stroke-width="2.9" stroke-linecap="round" stroke-linejoin="round"/>
<path d="M253,1085.3L256,1084.8L523,1039" fill="none" stroke="#b9bcbf" stroke-width="0.99" stroke-linecap="round" stroke-linejoin="round"/>
<path d="M260,1115.3L517.5,1093" fill="none" stroke="#6a6d71" stroke-width="2.9" stroke-linecap="round" stroke-linejoin="round"/>
<path d="M260,1115.3L517.5,1093" fill="none" stroke="#b9bcbf" stroke-width="0.99" stroke-linecap="round" stroke-linejoin="round"/>
<path d="M160.4,1062.7L473.3,1012.9L476,1009" fill="none" stroke="#6a6d71" stroke-width="2.9" stroke-linecap="round" stroke-linejoin="round"/>
<path d="M160.4,1062.7L473.3,1012.9L476,1009" fill="none" stroke="#b9bcbf" stroke-width="0.99" stroke-linecap="round" stroke-linejoin="round"/>
<path d="M265.0,1107.5L503.0,1086.3" fill="none" stroke="#6a6d71" stroke-width="2.3" stroke-linecap="round" stroke-linejoin="round"/>
<path d="M268.0,1100.0L489.0,1079.6" fill="none" stroke="#6a6d71" stroke-width="2.3" stroke-linecap="round" stroke-linejoin="round"/>
<path d="M271.0,1092.5L475.0,1072.9" fill="none" stroke="#6a6d71" stroke-width="2.3" stroke-linecap="round" stroke-linejoin="round"/>
<path d="M274.0,1085.0L461.0,1066.2" fill="none" stroke="#6a6d71" stroke-width="2.3" stroke-linecap="round" stroke-linejoin="round"/>
<g fill="none" stroke-linecap="butt" stroke-linejoin="round" >
<path d="M319.0,1150.0C319.9,1151.5 320.2,1154.3 324.2,1159.2C328.2,1164.1 337.1,1171.4 342.8,1179.4C348.5,1187.4 354.1,1196.2 358.4,1207.4C362.6,1218.7 366.1,1233.4 368.3,1246.9C370.5,1260.4 370.8,1275.8 371.4,1288.4C372.0,1301.0 371.8,1316.8 371.9,1322.5" stroke="#686b6f" stroke-width="25"/>
<path d="M319.0,1150.0C319.9,1151.5 320.2,1154.3 324.2,1159.2C328.2,1164.1 337.1,1171.4 342.8,1179.4C348.5,1187.4 354.1,1196.2 358.4,1207.4C362.6,1218.7 366.1,1233.4 368.3,1246.9C370.5,1260.4 370.8,1275.8 371.4,1288.4C372.0,1301.0 371.8,1316.8 371.9,1322.5" stroke="#a4a7aa" stroke-width="22.6"/>
<path d="M319.0,1150.0C319.9,1151.5 320.2,1154.3 324.2,1159.2C328.2,1164.1 337.1,1171.4 342.8,1179.4C348.5,1187.4 354.1,1196.2 358.4,1207.4C362.6,1218.7 366.1,1233.4 368.3,1246.9C370.5,1260.4 370.8,1275.8 371.4,1288.4C372.0,1301.0 371.8,1316.8 371.9,1322.5" stroke="#d3d5d7" stroke-width="13.0" transform="translate(-3,-1.5)"/>
<path d="M319.0,1150.0C319.9,1151.5 320.2,1154.3 324.2,1159.2C328.2,1164.1 337.1,1171.4 342.8,1179.4C348.5,1187.4 354.1,1196.2 358.4,1207.4C362.6,1218.7 366.1,1233.4 368.3,1246.9C370.5,1260.4 370.8,1275.8 371.4,1288.4C372.0,1301.0 371.8,1316.8 371.9,1322.5" stroke="#f4f4f5" stroke-width="5.0" transform="translate(-3.75,-1.88)"/>
</g>
<g fill="none" stroke-linecap="butt" stroke-linejoin="round" >
<path d="M1244.0,989.0C1244.8,990.0 1244.1,990.3 1248.5,994.7C1252.9,999.1 1264.2,1007.7 1270.3,1015.3C1276.4,1022.9 1281.3,1030.5 1285.2,1040.5C1289.1,1050.5 1292.0,1064.4 1293.8,1075.0C1295.6,1085.6 1295.6,1094.2 1296.0,1104.0C1296.4,1113.8 1296.1,1129.0 1296.1,1134.0" stroke="#686b6f" stroke-width="20.5"/>
<path d="M1244.0,989.0C1244.8,990.0 1244.1,990.3 1248.5,994.7C1252.9,999.1 1264.2,1007.7 1270.3,1015.3C1276.4,1022.9 1281.3,1030.5 1285.2,1040.5C1289.1,1050.5 1292.0,1064.4 1293.8,1075.0C1295.6,1085.6 1295.6,1094.2 1296.0,1104.0C1296.4,1113.8 1296.1,1129.0 1296.1,1134.0" stroke="#a4a7aa" stroke-width="18.1"/>
<path d="M1244.0,989.0C1244.8,990.0 1244.1,990.3 1248.5,994.7C1252.9,999.1 1264.2,1007.7 1270.3,1015.3C1276.4,1022.9 1281.3,1030.5 1285.2,1040.5C1289.1,1050.5 1292.0,1064.4 1293.8,1075.0C1295.6,1085.6 1295.6,1094.2 1296.0,1104.0C1296.4,1113.8 1296.1,1129.0 1296.1,1134.0" stroke="#d3d5d7" stroke-width="10.7" transform="translate(-2.6,-1.4)"/>
<path d="M1244.0,989.0C1244.8,990.0 1244.1,990.3 1248.5,994.7C1252.9,999.1 1264.2,1007.7 1270.3,1015.3C1276.4,1022.9 1281.3,1030.5 1285.2,1040.5C1289.1,1050.5 1292.0,1064.4 1293.8,1075.0C1295.6,1085.6 1295.6,1094.2 1296.0,1104.0C1296.4,1113.8 1296.1,1129.0 1296.1,1134.0" stroke="#f4f4f5" stroke-width="4.1" transform="translate(-3.25,-1.75)"/>
</g>
<path d="M357.8,1321.6L384.2,1321.6C385.2,1332.6 387.8,1337.0 389.8,1341.6Q389.8,1343.6 386.8,1343.6L355.2,1343.6Q352.2,1343.6 352.2,1341.6C354.2,1337.0 356.8,1332.6 357.8,1321.6Z" fill="#111"/>
<path d="M1282.5,1133.4L1304.5,1133.4C1305.5,1143.7 1306.5,1147.8 1308.5,1152.0Q1308.5,1154.0 1305.5,1154.0L1281.5,1154.0Q1278.5,1154.0 1278.5,1152.0C1280.5,1147.8 1281.5,1143.7 1282.5,1133.4Z" fill="#111"/>
<g fill="none" stroke-linecap="butt" stroke-linejoin="round" >
<path d="M321.6,1157L316.4,723" stroke="#787b7f" stroke-width="23.5"/>
<path d="M321.6,1157L316.4,723" stroke="#b0b3b6" stroke-width="21.1"/>
<path d="M321.6,1157L316.4,723" stroke="#d4d6d8" stroke-width="12.2" transform="translate(-3.0,0)"/>
<path d="M321.6,1157L316.4,723" stroke="#f1f1f2" stroke-width="4.7" transform="translate(-3.75,0.00)"/>
</g>
<g fill="none" stroke-linecap="butt" stroke-linejoin="round" >
<path d="M316.4,723L311,234C311,175 287,130 256,127L198,121C174.3,121 155.3,153.2 155.3,193L155.3,216" stroke="#62656a" stroke-width="24"/>
<path d="M316.4,723L311,234C311,175 287,130 256,127L198,121C174.3,121 155.3,153.2 155.3,193L155.3,216" stroke="#95989c" stroke-width="21.6"/>
<path d="M316.4,723L311,234C311,175 287,130 256,127L198,121C174.3,121 155.3,153.2 155.3,193L155.3,216" stroke="#c6c8cb" stroke-width="12.5" transform="translate(-3,-2.4)"/>
<path d="M316.4,723L311,234C311,175 287,130 256,127L198,121C174.3,121 155.3,153.2 155.3,193L155.3,216" stroke="#ebeced" stroke-width="4.8" transform="translate(-3.75,-3.00)"/>
</g>
<g fill="none" stroke-linecap="butt" stroke-linejoin="round" >
<path d="M1245.4,990L1251.5,617" stroke="#787b7f" stroke-width="22.5"/>
<path d="M1245.4,990L1251.5,617" stroke="#b0b3b6" stroke-width="20.1"/>
<path d="M1245.4,990L1251.5,617" stroke="#d4d6d8" stroke-width="11.7" transform="translate(-3.0,0)"/>
<path d="M1245.4,990L1251.5,617" stroke="#f1f1f2" stroke-width="4.5" transform="translate(-3.75,0.00)"/>
</g>
<g fill="none" stroke-linecap="butt" stroke-linejoin="round" >
<path d="M1251.5,617L1258.8,184C1259.4,128.8 1233,86.5 1200,84L1128,77.8C1103.5,77.8 1083.9,109.3 1083.9,148L1084.3,176" stroke="#62656a" stroke-width="23"/>
<path d="M1251.5,617L1258.8,184C1259.4,128.8 1233,86.5 1200,84L1128,77.8C1103.5,77.8 1083.9,109.3 1083.9,148L1084.3,176" stroke="#95989c" stroke-width="20.6"/>
<path d="M1251.5,617L1258.8,184C1259.4,128.8 1233,86.5 1200,84L1128,77.8C1103.5,77.8 1083.9,109.3 1083.9,148L1084.3,176" stroke="#c6c8cb" stroke-width="12.0" transform="translate(-3,-2.4)"/>
<path d="M1251.5,617L1258.8,184C1259.4,128.8 1233,86.5 1200,84L1128,77.8C1103.5,77.8 1083.9,109.3 1083.9,148L1084.3,176" stroke="#ebeced" stroke-width="4.6" transform="translate(-3.75,-3.00)"/>
</g>
<path d="M311,240L311,234C311,175 287,130 256,127L198,121C174.3,121 155.3,153.2 155.3,193L155.3,214" fill="none" stroke="#2f3236" stroke-opacity=".2" stroke-width="24"/>
<path d="M1258.8,200L1258.8,184C1259.4,128.8 1233,86.5 1200,84L1128,77.8C1103.5,77.8 1083.9,109.3 1083.9,148L1084.3,174" fill="none" stroke="#2f3236" stroke-opacity=".2" stroke-width="23"/>
<path d="M192,121.3L198,121L256,127L266,128.6" fill="none" stroke="#3f4246" stroke-opacity=".28" stroke-width="24"/>
<path d="M1120,78.3L1128,77.8L1200,84L1212,86.2" fill="none" stroke="#3f4246" stroke-opacity=".28" stroke-width="23"/>
<g fill="none" stroke-linecap="butt" stroke-linejoin="round" >
<path d="M1049.5,184.3L1090,181.9" stroke="#696d72" stroke-width="21.5"/>
<path d="M1049.5,184.3L1090,181.9" stroke="#8d9196" stroke-width="19.1"/>
<path d="M1049.5,184.3L1090,181.9" stroke="#a9adb1" stroke-width="11.2" transform="translate(0,-3.4)"/>
<path d="M1049.5,184.3L1090,181.9" stroke="#c3c6ca" stroke-width="4.3" transform="translate(0.00,-4.25)"/>
</g>
<path d="M1050,174.3Q1058,184.3 1051,198.3L1049,208.3" fill="none" stroke="#6f7276" stroke-width="2.4" stroke-linecap="round" stroke-linejoin="round"/>
<path d="M1070,173.1Q1078,183.1 1071,197.1L1069,207.1" fill="none" stroke="#6f7276" stroke-width="2.4" stroke-linecap="round" stroke-linejoin="round"/>
<path d="M1090,171.5Q1084,183 1088,196L1090,216L1246,206L1246,191Z" fill="url(#plate)"/>
<g fill="none" stroke-linecap="butt" stroke-linejoin="round" >
<path d="M358,262.2L1283,206.6" stroke="#6f7378" stroke-width="22"/>
<path d="M358,262.2L1283,206.6" stroke="#999da2" stroke-width="19.6"/>
<path d="M358,262.2L1283,206.6" stroke="#b6babe" stroke-width="11.4" transform="translate(0,-3.4)"/>
<path d="M358,262.2L1283,206.6" stroke="#d9dcde" stroke-width="4.4" transform="translate(0.00,-4.25)"/>
</g>
<ellipse cx="1283.5" cy="206.6" rx="5" ry="11" fill="#85888c" stroke="#5f6266" stroke-width="1.2"/>
<path d="M816.0,242.5C812.8,234.9 814.8,223.3 821.2,222.9C827.2,222.9 828.4,231.7 824.8,240.5" fill="none" stroke="#54575b" stroke-width="2.6" stroke-linecap="round"/>
<path d="M816.0,242.5C812.8,234.9 814.8,223.3 821.2,222.9C827.2,222.9 828.4,231.7 824.8,240.5" fill="none" stroke="#b9bcbf" stroke-width="0.7" stroke-linecap="round"/>
<path d="M840.0,241.1C836.8,233.5 838.8,221.9 845.2,221.5C851.2,221.5 852.4,230.3 848.8,239.1" fill="none" stroke="#54575b" stroke-width="2.6" stroke-linecap="round"/>
<path d="M840.0,241.1C836.8,233.5 838.8,221.9 845.2,221.5C851.2,221.5 852.4,230.3 848.8,239.1" fill="none" stroke="#b9bcbf" stroke-width="0.7" stroke-linecap="round"/>
<path d="M860.0,239.9C856.8,232.3 858.8,220.7 865.2,220.3C871.2,220.3 872.4,229.1 868.8,237.9" fill="none" stroke="#54575b" stroke-width="2.6" stroke-linecap="round"/>
<path d="M860.0,239.9C856.8,232.3 858.8,220.7 865.2,220.3C871.2,220.3 872.4,229.1 868.8,237.9" fill="none" stroke="#b9bcbf" stroke-width="0.7" stroke-linecap="round"/>
<path d="M1249.4,214.9C1246.4,207.8 1248.2,196.9 1254.2,196.6C1259.9,196.6 1261.0,204.8 1257.6,213.1" fill="none" stroke="#54575b" stroke-width="2.6" stroke-linecap="round"/>
<path d="M1249.4,214.9C1246.4,207.8 1248.2,196.9 1254.2,196.6C1259.9,196.6 1261.0,204.8 1257.6,213.1" fill="none" stroke="#b9bcbf" stroke-width="0.7" stroke-linecap="round"/>
<path d="M1266.4,213.9C1263.4,206.8 1265.2,195.9 1271.2,195.6C1276.9,195.6 1278.0,203.8 1274.6,212.1" fill="none" stroke="#54575b" stroke-width="2.6" stroke-linecap="round"/>
<path d="M1266.4,213.9C1263.4,206.8 1265.2,195.9 1271.2,195.6C1276.9,195.6 1278.0,203.8 1274.6,212.1" fill="none" stroke="#b9bcbf" stroke-width="0.7" stroke-linecap="round"/>
<path d="M370.6,268.8C367.2,260.8 369.4,248.4 376.1,248.0C382.5,248.0 383.8,257.4 380.0,266.7" fill="none" stroke="#54575b" stroke-width="2.8000000000000003" stroke-linecap="round"/>
<path d="M370.6,268.8C367.2,260.8 369.4,248.4 376.1,248.0C382.5,248.0 383.8,257.4 380.0,266.7" fill="none" stroke="#b9bcbf" stroke-width="0.9000000000000001" stroke-linecap="round"/>
<path d="M628,199.4Q636,209.4 629,223.4L627,235.4" fill="none" stroke="#6f7276" stroke-width="2.4" stroke-linecap="round" stroke-linejoin="round"/>
<path d="M652,198.0Q660,208.0 653,222.0L651,234.0" fill="none" stroke="#6f7276" stroke-width="2.4" stroke-linecap="round" stroke-linejoin="round"/>
<path d="M674,196.7Q682,206.7 675,220.7L673,232.7" fill="none" stroke="#6f7276" stroke-width="2.4" stroke-linecap="round" stroke-linejoin="round"/>
<path d="M1050,174.3Q1058,184.3 1051,198.3L1049,208.3" fill="none" stroke="#6f7276" stroke-width="2.4" stroke-linecap="round" stroke-linejoin="round"/>
<path d="M1070,173.1Q1078,183.1 1071,197.1L1069,207.1" fill="none" stroke="#6f7276" stroke-width="2.4" stroke-linecap="round" stroke-linejoin="round"/>
<g fill="none" stroke-linecap="butt" stroke-linejoin="round" >
<path d="M364,676.2L399.7,672.4L700,640.2L1020,604L1251.8,575.5L1281,572" stroke="#777a7f" stroke-width="23"/>
<path d="M364,676.2L399.7,672.4L700,640.2L1020,604L1251.8,575.5L1281,572" stroke="#a3a6ab" stroke-width="20.6"/>
<path d="M364,676.2L399.7,672.4L700,640.2L1020,604L1251.8,575.5L1281,572" stroke="#c4c7ca" stroke-width="12.0" transform="translate(0,-3.2)"/>
<path d="M364,676.2L399.7,672.4L700,640.2L1020,604L1251.8,575.5L1281,572" stroke="#e9eaeb" stroke-width="4.6" transform="translate(0.00,-4.00)"/>
</g>
<ellipse cx="1281.5" cy="572" rx="4.5" ry="11" fill="#85888c" stroke="#5f6266" stroke-width="1.2"/>
<path d="M829.6,633.6C826.2,625.5 828.4,613.2 835.1,612.8C841.5,612.8 842.8,622.1 839.0,631.5" fill="none" stroke="#54575b" stroke-width="2.8000000000000003" stroke-linecap="round"/>
<path d="M829.6,633.6C826.2,625.5 828.4,613.2 835.1,612.8C841.5,612.8 842.8,622.1 839.0,631.5" fill="none" stroke="#b9bcbf" stroke-width="0.9000000000000001" stroke-linecap="round"/>
<path d="M859.6,630.2C856.2,622.1 858.4,609.8 865.1,609.4C871.5,609.4 872.8,618.7 869.0,628.1" fill="none" stroke="#54575b" stroke-width="2.8000000000000003" stroke-linecap="round"/>
<path d="M859.6,630.2C856.2,622.1 858.4,609.8 865.1,609.4C871.5,609.4 872.8,618.7 869.0,628.1" fill="none" stroke="#b9bcbf" stroke-width="0.9000000000000001" stroke-linecap="round"/>
<path d="M881.6,627.7C878.2,619.6 880.4,607.3 887.1,606.9C893.5,606.9 894.8,616.2 891.0,625.6" fill="none" stroke="#54575b" stroke-width="2.8000000000000003" stroke-linecap="round"/>
<path d="M881.6,627.7C878.2,619.6 880.4,607.3 887.1,606.9C893.5,606.9 894.8,616.2 891.0,625.6" fill="none" stroke="#b9bcbf" stroke-width="0.9000000000000001" stroke-linecap="round"/>
<path d="M1252.4,581.4C1249.4,574.3 1251.2,563.4 1257.2,563.0C1262.9,563.0 1264.0,571.3 1260.6,579.5" fill="none" stroke="#54575b" stroke-width="2.6" stroke-linecap="round"/>
<path d="M1252.4,581.4C1249.4,574.3 1251.2,563.4 1257.2,563.0C1262.9,563.0 1264.0,571.3 1260.6,579.5" fill="none" stroke="#b9bcbf" stroke-width="0.7" stroke-linecap="round"/>
<path d="M1267.4,579.6C1264.4,572.5 1266.2,561.6 1272.2,561.2C1277.9,561.2 1279.0,569.5 1275.6,577.7" fill="none" stroke="#54575b" stroke-width="2.6" stroke-linecap="round"/>
<path d="M1267.4,579.6C1264.4,572.5 1266.2,561.6 1272.2,561.2C1277.9,561.2 1279.0,569.5 1275.6,577.7" fill="none" stroke="#b9bcbf" stroke-width="0.7" stroke-linecap="round"/>
<path d="M377.2,682.4C373.6,673.9 375.9,660.8 383.1,660.4C389.9,660.4 391.2,670.3 387.1,680.2" fill="none" stroke="#54575b" stroke-width="2.8000000000000003" stroke-linecap="round"/>
<path d="M377.2,682.4C373.6,673.9 375.9,660.8 383.1,660.4C389.9,660.4 391.2,670.3 387.1,680.2" fill="none" stroke="#b9bcbf" stroke-width="0.9000000000000001" stroke-linecap="round"/>
<path d="M322,251L346,254Q357,256 357,268Q357,280 346,281L322,278Z" fill="#7f8286" stroke="#5f6266" stroke-width="1"/>
<circle cx="343.6" cy="266.5" r="5" fill="#e9eaeb" stroke="#5f6266" stroke-width="1.2"/><path d="M341.1,268.0L346.1,265.0" stroke="#8b8e92" stroke-width="1"/>
<circle cx="145.3" cy="240" r="5" fill="#e9eaeb" stroke="#5f6266" stroke-width="1.2"/><path d="M142.8,241.5L147.8,238.5" stroke="#8b8e92" stroke-width="1"/>
<path d="M327,658.5L352,665Q361,668 360.5,680Q360,692 352,693L327,689Z" fill="#9a9da1" stroke="#6f7276" stroke-width="1"/>
<circle cx="347.6" cy="680.7" r="4.6" fill="#e9eaeb" stroke="#5f6266" stroke-width="1.2"/><path d="M345.3,682.1L349.9,679.3" stroke="#8b8e92" stroke-width="1"/>
<circle cx="159" cy="976.9" r="4.6" fill="#e9eaeb" stroke="#5f6266" stroke-width="1.2"/><path d="M156.7,978.3L161.3,975.5" stroke="#8b8e92" stroke-width="1"/>
<path d="M304.9,723L327.9,723" stroke="#6b6e72" stroke-width="1.4"/>
<path d="M152.4,676L176.4,676" stroke="#6b6e72" stroke-width="1.4"/>
<path d="M1240.5,617L1262.5,617" stroke="#6b6e72" stroke-width="1.2"/>
<path d="M95.2,263.8L162,261.8L246.9,276.4L183.8,284.9L95.2,271.6Z" fill="#a3a6aa" stroke="#74777b" stroke-width="1"/>
<path d="M104,265L160,263.5L232,276L180,282Z" fill="#c4c6c9"/>
<path d="M95.2,271.6L183.8,284.9L181.4,298.3L169.2,292.2L159.5,278.8L153.4,280L140,289.8L125.5,281.3L115.8,272.8L104.9,281.3L95.2,280Z" fill="#b7babd" stroke="#7b7e82" stroke-width="1"/>
<path d="M70,264.5L79,273L98,283" fill="none" stroke="#6e7175" stroke-width="2.6" stroke-linecap="round" stroke-linejoin="round"/>
<path d="M98.8,284.0L104.9,543.4" fill="none" stroke="#6e7175" stroke-width="2.2" stroke-linecap="round" stroke-linejoin="round"/>
<path d="M119.5,286.0L125.5,548.3" fill="none" stroke="#6e7175" stroke-width="2.2" stroke-linecap="round" stroke-linejoin="round"/>
<path d="M142.5,292.0L147.4,553.0" fill="none" stroke="#6e7175" stroke-width="2.2" stroke-linecap="round" stroke-linejoin="round"/>
<path d="M164.4,296.0L170.4,565.2" fill="none" stroke="#6e7175" stroke-width="2.2" stroke-linecap="round" stroke-linejoin="round"/>
<path d="M187.4,300.0L192.3,565.2" fill="none" stroke="#6e7175" stroke-width="2.2" stroke-linecap="round" stroke-linejoin="round"/>
<path d="M225.0,434.0L227.5,565.0" fill="none" stroke="#6e7175" stroke-width="2.2" stroke-linecap="round" stroke-linejoin="round"/>
<path d="M254.2,434.0L256.6,560.4" fill="none" stroke="#6e7175" stroke-width="2.2" stroke-linecap="round" stroke-linejoin="round"/>
<path d="M294.2,300.0L296.6,570.0" fill="none" stroke="#6e7175" stroke-width="2.2" stroke-linecap="round" stroke-linejoin="round"/>
<path d="M98.8,306.7L186.2,321.3" fill="none" stroke="#6e7175" stroke-width="2.2" stroke-linecap="round" stroke-linejoin="round"/>
<path d="M98.8,312.8L186.2,327.9" fill="none" stroke="#6e7175" stroke-width="2.2" stroke-linecap="round" stroke-linejoin="round"/>
<path d="M101.3,328.6L186.2,345.6" fill="none" stroke="#6e7175" stroke-width="2.2" stroke-linecap="round" stroke-linejoin="round"/>
<path d="M143.7,301.9L164.4,303.6" fill="none" stroke="#6e7175" stroke-width="2.2" stroke-linecap="round" stroke-linejoin="round"/>
<path d="M143.7,317.7L186.2,323.7" fill="none" stroke="#6e7175" stroke-width="2.2" stroke-linecap="round" stroke-linejoin="round"/>
<path d="M104.9,424.5L191.1,446.8" fill="none" stroke="#6e7175" stroke-width="2.2" stroke-linecap="round" stroke-linejoin="round"/>
<path d="M104.9,431.7L148.6,441.5" fill="none" stroke="#6e7175" stroke-width="2.2" stroke-linecap="round" stroke-linejoin="round"/>
<path d="M104.9,424.5L157.1,419.6" fill="none" stroke="#6e7175" stroke-width="2.2" stroke-linecap="round" stroke-linejoin="round"/>
<path d="M157.1,419.6L159.5,431.7" fill="none" stroke="#6e7175" stroke-width="2.2" stroke-linecap="round" stroke-linejoin="round"/>
<path d="M148.6,441.5L192.3,446.3" fill="none" stroke="#6e7175" stroke-width="2.2" stroke-linecap="round" stroke-linejoin="round"/>
<path d="M192.3,446.3L254.2,441.5" fill="none" stroke="#6e7175" stroke-width="2.2" stroke-linecap="round" stroke-linejoin="round"/>
<path d="M106.1,519.1L192.3,543.9" fill="none" stroke="#6e7175" stroke-width="2.2" stroke-linecap="round" stroke-linejoin="round"/>
<path d="M106.1,519.1L159.5,513.8" fill="none" stroke="#6e7175" stroke-width="2.2" stroke-linecap="round" stroke-linejoin="round"/>
<path d="M106.1,542.2L192.3,565.7" fill="none" stroke="#6e7175" stroke-width="2.2" stroke-linecap="round" stroke-linejoin="round"/>
<path d="M106.1,542.2L149.8,534.9" fill="none" stroke="#6e7175" stroke-width="2.2" stroke-linecap="round" stroke-linejoin="round"/>
<path d="M192.3,565.7L256.6,560.9" fill="none" stroke="#6e7175" stroke-width="2.2" stroke-linecap="round" stroke-linejoin="round"/>
<path d="M149.8,534.9L296.7,570.1" fill="none" stroke="#6e7175" stroke-width="2.2" stroke-linecap="round" stroke-linejoin="round"/>
<path d="M154.7,383.2L186.2,388.1" fill="none" stroke="#6e7175" stroke-width="2.2" stroke-linecap="round" stroke-linejoin="round"/>
<path d="M159.5,513.8L161.9,537.3" fill="none" stroke="#6e7175" stroke-width="2.2" stroke-linecap="round" stroke-linejoin="round"/>
<path d="M192.3,543.9L254.2,539.0" fill="none" stroke="#6e7175" stroke-width="2.2" stroke-linecap="round" stroke-linejoin="round"/>
<path d="M254.2,441.5L296.7,448.7" fill="none" stroke="#6e7175" stroke-width="2.2" stroke-linecap="round" stroke-linejoin="round"/>
<path d="M146.2,507.0L159.5,509.9" fill="none" stroke="#6e7175" stroke-width="2.2" stroke-linecap="round" stroke-linejoin="round"/>
<path d="M193,657L302,648L304,649.6L304,676.8L262,684Z" fill="#b3b6b9"/>
<path d="M64,617.5L143,605.5L302,645.5L302,649L196,660L64,621Z" fill="#fbfbfb" stroke="#c3c5c8" stroke-width="1.4" stroke-linejoin="round"/>
<path d="M84,618.5L140,610L270,643L196,651Z" fill="#f1f2f3" stroke="#d6d7da" stroke-width="1"/>
<path d="M244,668L244,710Q246,722 256,721Q265,719 264,706" fill="none" stroke="#8b8e92" stroke-width="3.0" stroke-linecap="round" stroke-linejoin="round"/>
<path d="M244,668L244,710Q246,722 256,721Q265,719 264,706" fill="none" stroke="#b9bcbf" stroke-width="1.02" stroke-linecap="round" stroke-linejoin="round"/>
<path d="M185,288L185,405L192,425Q194,433 204,433L278,433Q288,433 290,425L296.5,405L296.5,288Z" fill="url(#cup)" stroke="#74777b" stroke-width="1"/>
<ellipse cx="240.8" cy="287.5" rx="60" ry="8.5" fill="#c7c9cc" stroke="#7b7e82" stroke-width="2.2"/>
<ellipse cx="240.8" cy="288.8" rx="53" ry="5.6" fill="#9da0a4"/>
<path d="M181,404Q240,423 300.5,404" fill="none" stroke="#6f7276" stroke-width="3.4"/>
<path d="M181,408.5Q240,427.5 300.5,408.5" fill="none" stroke="#d8dadc" stroke-width="1.8"/>
<path d="M299,296L299,404" stroke="#85888c" stroke-width="2"/>
<circle cx="205.6" cy="363" r="3" fill="#222325"/>
<circle cx="199" cy="377" r="3" fill="#222325"/>
<circle cx="213" cy="376" r="3" fill="#222325"/>
<circle cx="193" cy="390" r="3" fill="#222325"/>
<circle cx="206.5" cy="389" r="3" fill="#222325"/>
<circle cx="220" cy="388" r="3" fill="#222325"/>
<circle cx="199.5" cy="402" r="3" fill="#222325"/>
<circle cx="213" cy="401" r="3" fill="#222325"/>
<circle cx="266" cy="362" r="3" fill="#222325"/>
<circle cx="259" cy="376" r="3" fill="#222325"/>
<circle cx="273" cy="375" r="3" fill="#222325"/>
<circle cx="252" cy="389" r="3" fill="#222325"/>
<circle cx="266" cy="388" r="3" fill="#222325"/>
<circle cx="279.5" cy="386" r="3" fill="#222325"/>
<circle cx="259" cy="401" r="3" fill="#222325"/>
<circle cx="273" cy="399" r="3" fill="#222325"/>
</g>
<g id="labels">
<rect x="315" y="2.5" width="804.5" height="54.5" rx="7" fill="#227c9f"/>
<text x="337" y="48" font-size="51.5" fill="#ee9a2e" textLength="761" lengthAdjust="spacingAndGlyphs">NOTE:The Size is Not Adjustable</text>
<rect x="1373.6" y="42.8" width="61.600000000000136" height="218.2" rx="8.5" fill="#227c9f"/>
<text transform="translate(1386,74) rotate(90)" font-size="48" fill="#fff" textLength="148.0" lengthAdjust="spacingAndGlyphs">4.2inch</text>
<rect x="1376.3" y="296.5" width="58.700000000000045" height="216.79999999999995" rx="11" fill="#227c9f"/>
<text transform="translate(1387,315.7) rotate(90)" font-size="48" fill="#fff" textLength="178.3" lengthAdjust="spacingAndGlyphs">10.2inch</text>
<rect x="1372" y="761.8" width="69.79999999999995" height="220.0" rx="9" fill="#227c9f"/>
<text transform="translate(1388,774.4) rotate(90)" font-size="48" fill="#fff" textLength="193.2" lengthAdjust="spacingAndGlyphs">17.72inch</text>
<rect x="18.3" y="673" width="70.4" height="211.39999999999998" rx="9" fill="#227c9f"/>
<text transform="translate(35,692.7) rotate(90)" font-size="48" fill="#fff" textLength="170.1" lengthAdjust="spacingAndGlyphs">32. 1inch</text>
<line x1="999.2" y1="280" x2="999.2" y2="510" stroke="#2a7f9c" stroke-width="2.1"/>
<path transform="translate(999.2,264.7) rotate(-90)" d="M0,0L-25,-6.5L-18.0,0L-25,6.5Z" fill="#2a7f9c"/>
<path transform="translate(999.2,526.7) rotate(90)" d="M0,0L-25,-6.5L-18.0,0L-25,6.5Z" fill="#2a7f9c"/>
<line x1="1003.7" y1="655" x2="1003.7" y2="1072" stroke="#2a7f9c" stroke-width="2.1"/>
<path transform="translate(1003.7,640) rotate(-90)" d="M0,0L-25,-6.5L-18.0,0L-25,6.5Z" fill="#2a7f9c"/>
<path transform="translate(1003.7,1088) rotate(90)" d="M0,0L-25,-6.5L-18.0,0L-25,6.5Z" fill="#2a7f9c"/>
<line x1="956.5" y1="884" x2="956.5" y2="1082" stroke="#2a7f9c" stroke-width="2.1"/>
<path transform="translate(956.5,869) rotate(-90)" d="M0,0L-25,-6.5L-18.0,0L-25,6.5Z" fill="#2a7f9c"/>
<path transform="translate(956.5,1097.5) rotate(90)" d="M0,0L-25,-6.5L-18.0,0L-25,6.5Z" fill="#2a7f9c"/>
<rect x="975.8" y="302.4" width="50.0" height="170.5" rx="6" fill="#227c9f"/>
<text transform="translate(985,304.7) rotate(90)" font-size="48" fill="#fff" textLength="169.3" lengthAdjust="spacingAndGlyphs">8.66inch</text>
<rect x="976.9" y="729.8" width="48.10000000000002" height="202.30000000000007" rx="7" fill="#227c9f"/>
<text transform="translate(984.5,731) rotate(90)" font-size="48" fill="#fff" textLength="192.7" lengthAdjust="spacingAndGlyphs">16.54inch</text>
<rect x="887" y="896" width="53.799999999999955" height="172" rx="7" fill="#227c9f"/>
<text transform="translate(896.5,896.7) rotate(90)" font-size="48" fill="#fff" textLength="171.3" lengthAdjust="spacingAndGlyphs">7.68inch</text>
<g transform="translate(736.5,1140.6) rotate(-10.45)">
<rect x="-172.0" y="-27.2" width="344" height="54.5" rx="8" fill="#227c9f"/>
<text x="-150.5" y="16.5" font-size="46" fill="#fff" textLength="301" lengthAdjust="spacingAndGlyphs">inside 32.3inch</text>
</g>
<g transform="translate(904.8,1307.5) rotate(-10.2)">
<rect x="-109.0" y="-28.5" width="218" height="57" rx="9" fill="#227c9f"/>
<text x="-81.0" y="17.0" font-size="47.5" fill="#fff" textLength="170" lengthAdjust="spacingAndGlyphs">33.7inch</text>
</g>
<g transform="translate(246.7,1408.7) rotate(24.95)">
<rect x="-105.5" y="-29.0" width="211" height="58" rx="9" fill="#227c9f"/>
<text x="-80.0" y="16.8" font-size="47" fill="#fff" textLength="166" lengthAdjust="spacingAndGlyphs">11.4inch</text>
</g>
</g>
</svg></body></html>
